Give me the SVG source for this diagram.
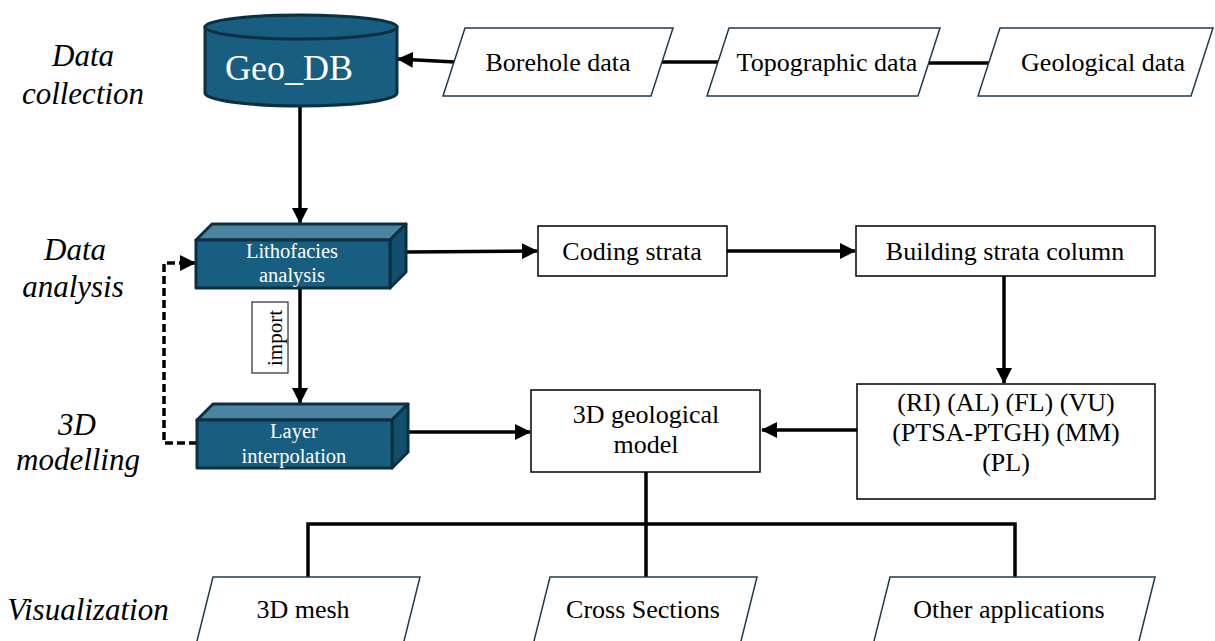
<svg xmlns="http://www.w3.org/2000/svg" width="1215" height="641" viewBox="0 0 1215 641">
<style>
.t{font-family:"Liberation Serif","Times New Roman",serif;font-size:26px;fill:#000;text-anchor:middle}
.w{font-family:"Liberation Serif","Times New Roman",serif;fill:#fff;text-anchor:middle}
.lab{font-family:"Liberation Serif","Times New Roman",serif;font-style:italic;font-size:31px;fill:#000;text-anchor:middle}
.box{fill:#fff;stroke:#000;stroke-width:1.5}
.para{fill:#fff;stroke:#1f3b4d;stroke-width:1.5}
.front{fill:#175e81;stroke:#0c2f42;stroke-width:3;stroke-linejoin:round}
.top{fill:#4a84a0;stroke:#0c2f42;stroke-width:3;stroke-linejoin:round}
.side{fill:#124f6d;stroke:#0c2f42;stroke-width:3;stroke-linejoin:round}
.c{fill:none;stroke:#000;stroke-width:3.5}
.a{marker-end:url(#ah)}
</style>
<defs>
<marker id="ah" markerUnits="userSpaceOnUse" markerWidth="16" markerHeight="16" viewBox="0 0 16 16" refX="15" refY="8" orient="auto">
<path d="M0,0 L16,8 L0,16 Z" fill="#000"/>
</marker>
</defs>

<g id="labels">
<text class="lab" x="83" y="66">Data</text>
<text class="lab" x="83" y="104">collection</text>
<text class="lab" x="75" y="260">Data</text>
<text class="lab" x="73" y="297">analysis</text>
<text class="lab" x="77" y="435">3D</text>
<text class="lab" x="78" y="470">modelling</text>
<text class="lab" x="88" y="620">Visualization</text>
</g>

<g id="connectors">
<path class="c a" d="M455,62 L398,59"/>
<path class="c" d="M662,62 H718" stroke-width="4"/>
<path class="c" d="M929,63 H990" stroke-width="4"/>
<path class="c a" d="M300,106 V223"/>
<path class="c a" d="M300,288 V403"/>
<path class="c a" d="M406,252 L537,251"/>
<path class="c a" d="M727,251 H855"/>
<path class="c a" d="M1004,276 V383"/>
<path class="c a" d="M857,430 H762"/>
<path class="c a" d="M408,432 H530"/>
<path class="c a" d="M197,443 H164 V263 H195" stroke-dasharray="8,4"/>
<path class="c" d="M646,472 V577 M308,577 V524 H1015 V577"/>
</g>

<g id="geo_db">
<path d="M205,27 V93 A96,13 0 0 0 397,93 V27 Z" fill="#175e81" stroke="#0c2f42" stroke-width="3"/>
<ellipse cx="301" cy="27" rx="96" ry="12" fill="#175e81" stroke="#0c2f42" stroke-width="3"/>
<text class="w" x="289" y="80" font-size="36">Geo_DB</text>
</g>

<g id="borehole">
<polygon class="para" points="465,28 673,28 651,96 443,96"/>
<text class="t" x="558" y="71">Borehole data</text>
</g>
<g id="topographic">
<polygon class="para" points="729,28 940,28 918,96 707,96"/>
<text class="t" x="827" y="71">Topographic data</text>
</g>
<g id="geological">
<polygon class="para" points="1000,28 1213,28 1191,96 978,96"/>
<text class="t" x="1103" y="71">Geological data</text>
</g>

<g id="lithofacies">
<polygon class="top" points="196,240 212,224 406,224 390,240"/>
<polygon class="side" points="390,240 406,224 406,272 390,288"/>
<rect class="front" x="196" y="240" width="194" height="48"/>
<text class="w" x="292" y="258" font-size="20.5">Lithofacies</text>
<text class="w" x="292" y="282" font-size="20.5">analysis</text>
</g>

<g id="import">
<rect x="252" y="302" width="36" height="71" fill="#fff" stroke="#000" stroke-width="1"/>
<text x="282" y="338" transform="rotate(-90 282 338)" font-family="Liberation Serif, Times New Roman, serif" font-size="21" text-anchor="middle">import</text>
</g>

<g id="layer">
<polygon class="top" points="197,420 213,404 408,404 392,420"/>
<polygon class="side" points="392,420 408,404 408,452 392,468"/>
<rect class="front" x="197" y="420" width="195" height="48"/>
<text class="w" x="294" y="438" font-size="20.5">Layer</text>
<text class="w" x="294" y="463" font-size="20.5">interpolation</text>
</g>

<g id="coding">
<rect class="box" x="538" y="226" width="189" height="50"/>
<text class="t" x="632" y="260">Coding strata</text>
</g>
<g id="building">
<rect class="box" x="856" y="226" width="299" height="50"/>
<text class="t" x="1005" y="260">Building strata column</text>
</g>
<g id="units">
<rect class="box" x="857" y="384" width="298" height="115"/>
<text class="t" x="1006" y="411">(RI) (AL) (FL) (VU)</text>
<text class="t" x="1006" y="441">(PTSA-PTGH) (MM)</text>
<text class="t" x="1006" y="471">(PL)</text>
</g>
<g id="model">
<rect class="box" x="531" y="390" width="229" height="82"/>
<text class="t" x="646" y="423">3D geological</text>
<text class="t" x="646" y="453">model</text>
</g>

<g id="mesh">
<polygon class="para" points="213,577 420,577 399,661 192,661"/>
<text class="t" x="303" y="618">3D mesh</text>
</g>
<g id="cross">
<polygon class="para" points="550,577 757,577 736,661 529,661"/>
<text class="t" x="643" y="618">Cross Sections</text>
</g>
<g id="other">
<polygon class="para" points="890,577 1155,577 1134,661 869,661"/>
<text class="t" x="1009" y="618">Other applications</text>
</g>
</svg>
